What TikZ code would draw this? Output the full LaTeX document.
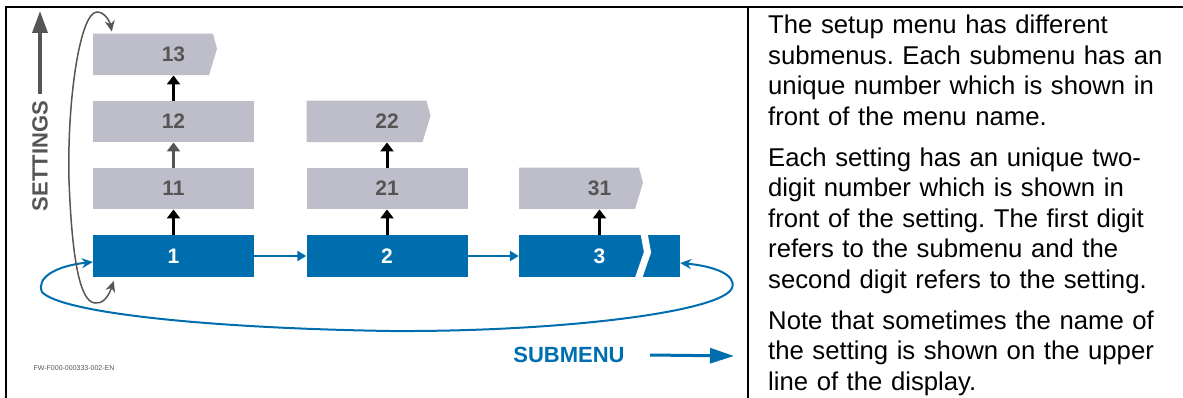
\documentclass[tikz,border=0pt]{standalone}
\usepackage{fontspec}
\setmainfont{Liberation Sans}
\usetikzlibrary{arrows.meta,calc}

\definecolor{menublue}{RGB}{0,110,174}
\definecolor{setgray}{RGB}{190,190,202}
\definecolor{darkgray}{RGB}{85,85,85}

\begin{document}
\frenchspacing
\begin{tikzpicture}[x=1pt,y=-1pt,
  box/.style={rectangle, minimum width=161pt, minimum height=41.5pt, inner sep=0pt,
    font=\bfseries\fontsize{21}{21}\selectfont},
  sub/.style={box, fill=menublue, text=white},
  setting/.style={box, fill=setgray, text=darkgray},
  settingcut/.style={box, text=darkgray,
    path picture={\fill[setgray] (path picture bounding box.north west) -- ++(120,0) -- ++(4,15)
      -- ++(-8,26.5) -- (path picture bounding box.south west) -- cycle;}},
  subcut/.style={sub,
    path picture={\draw[white, line width=7pt] ($(path picture bounding box.north west)+(125,-2)$)
      -- ++(3.5,19) -- ++(-9,26);}},
  up/.style={line width=3pt, -{Triangle[width=13pt,length=9pt]}},
  right/.style={menublue, line width=2.5pt, -{Triangle[width=10pt,length=9pt]}},
  loopgray/.style={darkgray, line width=1.5pt, {Stealth[length=11pt,width=10pt]}-{Stealth[length=11pt,width=10pt]}},
  loopblue/.style={menublue, line width=2pt, {Stealth[length=11pt,width=10pt]}-{Stealth[length=11pt,width=10pt]}}]

\useasboundingbox (0,0) rectangle (1183,398);

% frame
\draw [line width=2.2pt] (6,398) -- (6,7) -- (1183,7);
\draw [line width=2.2pt] (748,7) -- (748,398);

% submenus and settings
\node [sub] (b1) at (173.5,256) {1};
\node [setting] (b11) at (173.5,188.5) {11};
\node [setting] (b12) at (173.5,121.5) {12};
\node [settingcut] (b13) at (173.5,54.5) {13};
\node [sub] (b2) at (387,256) {2};
\node [setting] (b21) at (387,188.5) {21};
\node [settingcut] (b22) at (387,121.5) {22};
\node [subcut] (b3) at (599.5,256) {3};
\node [settingcut] (b31) at (599.5,188.5) {31};

\draw [up] (b1) -- (b11);
\draw [up, darkgray] (b11) -- (b12);
\draw [up] (b12) -- (b13);
\draw [up] (b2) -- (b21);
\draw [up] (b21) -- (b22);
\draw [up] (b3) -- (b31);
\draw [right] (b1) -- (b2);
\draw [right] (b2) -- (b3);

% loops
\draw [loopblue] ($(b1.west)+(0,6)$) .. controls (55,266) and (36,278) .. (42,292)
  .. controls (60,312) and (200,328) .. (390,331)
  .. controls (560,332) and (722,312) .. (732,288)
  .. controls (737,274) and (712,266) .. ($(b3.east)+(0,7)$);
\draw [loopgray] ($(b1.south west)+(21,4)$) .. controls (108,298) and (102,304) .. (95,303)
  .. controls (80,302) and (72,260) .. (69,180)
  .. controls (67,100) and (80,12) .. (97,12)
  .. controls (105,12) and (110,22) .. ($(b13.north west)+(19,-2)$);

% axis labels
\node [rotate=90, text=darkgray, inner sep=7pt, font=\bfseries\fontsize{22}{22}\selectfont] (settings) at (40,156) {SETTINGS};
\coordinate (settop) at (40,11);
\draw [darkgray, line width=3.5pt, -{Triangle[width=15pt,length=22pt]}] (settings.east) -- (settop);
\node [text=menublue, font=\bfseries\fontsize{22}{22}\selectfont] (submenu) at (569,355) {SUBMENU};
\coordinate (subend) at (734,356);
\draw [menublue, line width=3pt, -{Triangle[width=15pt,length=24pt]}] ([xshift=22pt]submenu.east) -- (subend);

\node [text=darkgray, font=\fontsize{7}{7}\selectfont] (code) at (74,368) {FW-F000-000333-002-EN};

% description
\node [anchor=north west, inner sep=0pt, text width=412pt, align=left,
  font=\fontsize{25.7}{30.5}\selectfont] (desc) at (768,15) {%
The setup menu has different\\
submenus. Each submenu has an\\
unique number which is shown in\\
front of the menu name.\\[10.5pt]
Each setting has an unique two-\\
digit number which is shown in\\
front of the setting. The first digit\\
refers to the submenu and the\\
second digit refers to the setting.\\[10.5pt]
Note that sometimes the name of\\
the setting is shown on the upper\\
line of the display.};
\end{tikzpicture}
\end{document}
